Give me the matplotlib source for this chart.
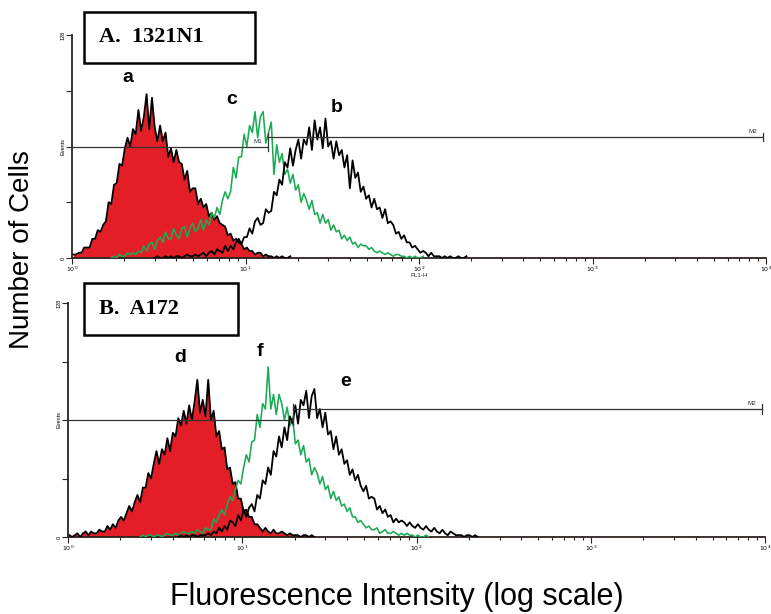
import numpy as np
import matplotlib
matplotlib.use("Agg")
import matplotlib.pyplot as plt
from matplotlib.patches import Rectangle

# ---------------- data (histogram counts per channel, 64 channels / decade) ----------------
CH_PER_DECADE = 64

# Panel A (1321N1)
a_start = 0
a_counts = [2, 2, 3, 3, 6, 6, 6, 11, 11, 16,
            15, 19, 21, 32, 31, 42, 43, 54, 53, 63,
            69, 64, 74, 71, 85, 73, 81, 94, 74, 92,
            75, 67, 76, 67, 72, 58, 63, 55, 62, 55,
            54, 45, 50, 38, 40, 40, 31, 34, 29, 31,
            24, 26, 22, 24, 20, 19, 18, 13, 14, 10,
            11, 9, 8, 5, 6, 4, 4, 2, 3, 3,
            1, 2, 1, 1, 0, 1, 0, 1, 0, 0,
            1]

c_start = 14
c_counts = [0, 1, 0, 2, 1, 1, 3, 2, 3, 2,
            4, 3, 7, 4, 8, 9, 5, 10, 12, 9,
            15, 11, 11, 17, 13, 11, 17, 18, 12, 17,
            20, 15, 17, 22, 16, 22, 19, 26, 23, 29,
            25, 33, 38, 34, 38, 52, 46, 58, 58, 71,
            64, 76, 72, 84, 69, 81, 84, 66, 72, 78,
            48, 65, 55, 60, 48, 51, 43, 48, 39, 42,
            32, 37, 33, 28, 33, 25, 26, 20, 25, 20,
            22, 16, 19, 15, 16, 11, 13, 10, 12, 8,
            9, 6, 8, 7, 7, 5, 6, 4, 3, 4,
            3, 2, 3, 2, 1, 2, 2, 1, 1, 0,
            1, 0, 1, 0, 0, 1]

b_start = 30
b_counts = [0, 1, 0, 0, 1, 0, 1, 0, 1, 1,
            0, 1, 2, 1, 1, 2, 1, 2, 3, 1,
            3, 4, 2, 5, 4, 3, 7, 4, 7, 5,
            9, 11, 8, 12, 12, 17, 14, 21, 23, 19,
            20, 28, 26, 27, 38, 36, 45, 42, 55, 52,
            63, 53, 62, 68, 57, 68, 65, 75, 62, 79,
            68, 75, 63, 80, 64, 67, 57, 67, 59, 62,
            52, 59, 40, 56, 46, 49, 38, 41, 34, 36,
            29, 34, 28, 29, 23, 28, 20, 21, 19, 14,
            15, 11, 13, 9, 9, 6, 7, 5, 3, 4,
            3, 1, 3, 1, 1, 1, 0, 1, 0, 1,
            0, 0, 1, 0, 0, 1]

# Panel B (A172)
d_start = 0
d_counts = [1, 0, 1, 2, 0, 2, 3, 1, 3, 2,
            2, 4, 3, 3, 6, 4, 7, 5, 9, 11,
            9, 13, 17, 14, 19, 23, 19, 27, 27, 35,
            32, 40, 47, 40, 48, 45, 54, 47, 57, 55,
            65, 61, 69, 62, 72, 64, 74, 86, 68, 75,
            66, 86, 64, 69, 55, 58, 48, 49, 37, 38,
            29, 30, 21, 21, 14, 15, 11, 11, 7, 7,
            5, 3, 5, 3, 2, 4, 2, 2, 3, 2,
            1, 2, 1, 1, 1, 0, 1, 1, 0, 1, 0]

f_start = 26
f_counts = [0, 1, 0, 1, 1, 0, 1, 1, 0, 1,
            2, 1, 1, 2, 1, 2, 3, 2, 2, 3,
            2, 4, 3, 2, 5, 4, 4, 10, 8, 12,
            15, 12, 18, 22, 20, 26, 31, 29, 38, 45,
            41, 52, 53, 67, 60, 73, 70, 93, 70, 78,
            67, 78, 73, 64, 71, 61, 65, 51, 53, 45,
            50, 41, 43, 34, 38, 35, 29, 33, 26, 28,
            21, 25, 20, 22, 17, 18, 14, 16, 11, 11,
            8, 9, 7, 5, 6, 4, 4, 5, 2, 3,
            4, 2, 2, 3, 2, 1, 2, 1, 2, 1,
            1, 0, 1, 0, 0, 1, 0]

e_start = 40
e_counts = [0, 1, 0, 1, 0, 1, 1, 0, 1, 1,
            1, 2, 1, 3, 2, 5, 3, 6, 4, 9,
            8, 6, 12, 9, 15, 11, 16, 18, 14, 23,
            21, 31, 29, 38, 34, 47, 44, 55, 49, 60,
            53, 66, 62, 72, 62, 75, 72, 80, 65, 77,
            81, 65, 70, 60, 68, 56, 58, 48, 55, 45,
            48, 40, 42, 34, 37, 31, 34, 28, 25, 28,
            21, 22, 21, 15, 17, 13, 15, 11, 12, 8,
            10, 8, 9, 8, 6, 8, 6, 5, 7, 5,
            4, 6, 4, 3, 5, 3, 2, 4, 2, 1,
            3, 2, 1, 1, 1, 0, 1, 1, 0, 1, 0]

# markers (gates) as (low, high, level) in log10 units / counts
top_m1 = (0.0, 1.13, 64)
top_m2 = (1.13, 3.98, 69.5)
bot_m1 = (0.0, 1.29, 64)
bot_m2 = (1.29, 3.98, 70)

panel_titles = ["A.  1321N1", "B.  A172"]
top_letters = [("a", 128, 78), ("c", 232, 99), ("b", 337, 108)]
bot_letters = [("d", 180, 358), ("f", 260, 352), ("e", 346, 381)]

RED = "#e31e26"
GREEN = "#1aab55"

W, H = 771, 614
fig = plt.figure(figsize=(W / 100, H / 100), dpi=100)
plt.rcParams['font.family'] = ['Liberation Sans', 'DejaVu Sans']


def px_axes(x0, y0, x1, y1):
    return fig.add_axes([x0 / W, 1 - y1 / H, (x1 - x0) / W, (y1 - y0) / H])


def centers(start, n):
    return 10 ** ((np.arange(start, start + n) + 0.5) / CH_PER_DECADE)


def marker(ax, m, label=None):
    lo, hi, lev = m
    ax.plot([10 ** lo, 10 ** hi], [lev, lev], color="#333333", lw=0.9, zorder=6)
    for v in (lo, hi):
        if v > 0.01:
            ax.plot([10 ** v, 10 ** v], [lev - 2.5, lev + 2.5], color="#333333", lw=0.9, zorder=6)
    if label:
        ax.text(10 ** hi * 0.93, lev + 1.5, label, fontsize=4.5, ha="right", va="bottom",
                color="#333333", zorder=7)


def style(ax, fl1=False):
    ax.set_xscale("log")
    ax.set_xlim(1, 1e4)
    ax.set_ylim(0, 128)
    for s in ("top", "right"):
        ax.spines[s].set_visible(False)
    for s in ("left", "bottom"):
        ax.spines[s].set_color("#2b2320")
        ax.spines[s].set_linewidth(1.3)
    ax.set_yticks([0, 32, 64, 96, 128])
    ax.set_yticklabels(["0", "", "Events", "", "128"], fontsize=4, rotation=90, va="center")
    ax.set_xticks([1, 10, 100, 1000, 10000])
    ax.set_xticklabels([r"$10^0$", r"$10^1$", r"$10^2$", r"$10^3$", r"$10^4$"], fontsize=4.5)
    ax.tick_params(axis="both", which="major", length=4, width=0.8, color="#2b2320", pad=0.8)
    ax.tick_params(axis="x", which="minor", length=2.5, width=0.8, color="#2b2320")
    ax.xaxis.set_minor_locator(matplotlib.ticker.LogLocator(base=10, subs=np.arange(2, 10)))
    ax.xaxis.set_minor_formatter(matplotlib.ticker.NullFormatter())
    ax.set_facecolor("none")
    if fl1:
        ax.text(100, -8.5, "FL1-H", fontsize=4.5, ha="center", va="top", color="#333333")


def draw_panel(ax, filled, green, black):
    s, v = filled
    x = centers(s, len(v))
    ax.fill_between(x, 0, v, color=RED, lw=0, zorder=2)
    ax.plot(x, v, color="black", lw=1.3, zorder=3)
    s, v = green
    ax.plot(centers(s, len(v)), v, color=GREEN, lw=1.15, zorder=4)
    s, v = black
    ax.plot(centers(s, len(v)), v, color="black", lw=1.3, zorder=5)


ax1 = px_axes(72, 35, 766, 258)
draw_panel(ax1, (a_start, a_counts), (c_start, c_counts), (b_start, b_counts))
marker(ax1, top_m1, "M1")
marker(ax1, top_m2, "M2")
style(ax1, fl1=True)

ax2 = px_axes(68, 303, 765, 537)
draw_panel(ax2, (d_start, d_counts), (f_start, f_counts), (e_start, e_counts))
marker(ax2, bot_m1)
marker(ax2, bot_m2, "M2")
style(ax2)

# title boxes
for (x0, y0, x1, y1), t in zip([(84, 12, 255, 63), (84, 283, 238, 335)], panel_titles):
    fig.patches.append(Rectangle((x0 / W, 1 - y1 / H), (x1 - x0) / W, (y1 - y0) / H,
                                 transform=fig.transFigure, fill=False, lw=1.8,
                                 edgecolor="black", zorder=10))
    fig.text((x0 + 15) / W, 1 - (y0 + y1) / 2 / H, t, fontsize=16, fontweight="bold",
             family=["Liberation Serif", "DejaVu Serif"], ha="left", va="center")

for lab, x, y in top_letters + bot_letters:
    fig.text(x / W, 1 - y / H, lab, fontsize=14, fontweight="bold", ha="center", va="center")

fig.text(22 / W, 1 - 250 / H, "Number of Cells", fontsize=20, rotation=90,
         ha="center", va="center")
fig.text(397 / W, 1 - 597 / H, "Fluorescence Intensity (log scale)", fontsize=22,
         ha="center", va="center")

fig.savefig("out.png", dpi=100)
